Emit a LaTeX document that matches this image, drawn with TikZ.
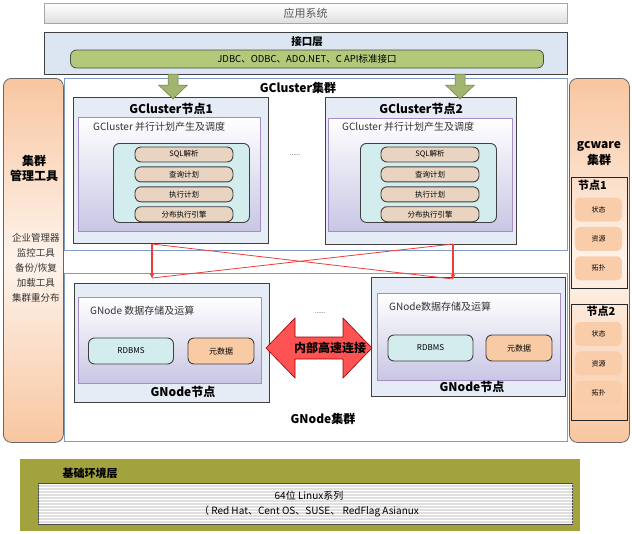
\documentclass[tikz,border=0pt]{standalone}
\usepackage{fontspec}
\setmainfont{Noto Sans CJK SC}
\usepackage{xcolor}
\usepackage{tikz}
\usetikzlibrary{positioning,arrows.meta,patterns}

\definecolor{apigreen}{HTML}{B4C87A}
\definecolor{layerblue}{HTML}{DCE6F2}
\definecolor{clusterline}{HTML}{7F9CC7}
\definecolor{nodefill}{HTML}{E5ECF6}
\definecolor{planline}{HTML}{A58CC4}
\definecolor{planbot}{HTML}{C8C6E4}
\definecolor{corefill}{HTML}{D3ECEE}
\definecolor{pillfill}{HTML}{E9D4C1}
\definecolor{metafill}{HTML}{F9CBA4}
\definecolor{peach}{HTML}{F8C6A0}
\definecolor{olive}{HTML}{A2A23E}
\definecolor{linkred}{HTML}{EE3B3B}
\definecolor{hsred}{HTML}{FF5252}

\begin{document}
\begin{tikzpicture}[
  x=1pt, y=-1pt,
  font=\fontsize{8}{10}\selectfont,
  frame/.style={anchor=north west, inner sep=0pt},
  appbox/.style={frame, draw=gray!70, top color=white, bottom color=gray!25, text=black!65, font=\fontsize{11}{13}\selectfont},
  layerbox/.style={frame, draw=black!75, line width=0.9pt, fill=layerblue},
  apibar/.style={draw=black!70, line width=0.8pt, rounded corners=6pt, fill=apigreen, minimum width=473pt, minimum height=18pt, inner sep=0pt, font=\fontsize{9.5}{11}\selectfont},
  clusterbox/.style={frame, draw=clusterline, line width=1.1pt, fill=white},
  nodebox/.style={frame, draw=black!75, line width=1.1pt, fill=nodefill},
  planbox/.style={frame, draw=planline, line width=0.8pt, top color=white, bottom color=planbot},
  corebox/.style={frame, draw=black!75, line width=0.9pt, rounded corners=6pt, fill=corefill},
  pill/.style={draw=black!75, line width=0.9pt, rounded corners=6pt, fill=pillfill, minimum width=98pt, minimum height=15pt, inner sep=0pt, font=\fontsize{7.5}{8}\selectfont},
  dbbox/.style={draw=black!75, line width=0.9pt, rounded corners=6pt, minimum height=26pt, inner sep=0pt, font=\fontsize{8}{9}\selectfont},
  sidepanel/.style={frame, draw=black!60, line width=0.8pt, rounded corners=8pt, top color=peach, bottom color=peach, middle color=peach!20},
  hostbox/.style={frame, draw=black!85, line width=1pt},
  hostpill/.style={fill=peach!90, rounded corners=5pt, minimum width=47pt, minimum height=24pt, inner sep=0pt, font=\fontsize{7}{8}\selectfont},
  title/.style={font=\fontsize{12}{14}\selectfont\bfseries, inner sep=0pt},
  subtitle/.style={font=\fontsize{10}{12}\selectfont, text=black!80, inner sep=0pt},
  link/.style={draw=linkred, line width=0.8pt},
  linkarrow/.style={link, line width=1.6pt, -{Stealth[length=5pt,width=5pt]}},
  feed/.style={fill=apigreen!90!black, draw=apigreen!60!black, line width=0.5pt},
  hslink/.style={fill=hsred, draw=red!60!black, line width=0.6pt}
]
\useasboundingbox (0,0) rectangle (632,533);

% top layers
\node[appbox, minimum width=523pt, minimum height=20pt] (app) at (44,3) {应用系统};
\node[layerbox, minimum width=523pt, minimum height=42pt] (api) at (44,32) {};
\node[font=\fontsize{10.5}{12}\selectfont\bfseries, inner sep=0pt] (apit) at (307,42) {接口层};
\node[apibar] (apis) at (307,59) {JDBC、ODBC、ADO.NET、C API标准接口};

% side panels
\node[sidepanel, minimum width=60pt, minimum height=364pt] (mgmt) at (3,78) {};
\node[align=center, font=\fontsize{12}{15}\selectfont\bfseries, inner sep=0pt] (mgmtt) at (34,168) {集群\\管理工具};
\node[align=center, font=\fontsize{9.5}{15}\selectfont, text=black!80, inner sep=0pt] (tools) at (36,268) {企业管理器\\监控工具\\备份/恢复\\加载工具\\集群重分布};

\node[sidepanel, minimum width=60pt, minimum height=364pt] (gcw) at (569,78) {};
\node[align=center, font=\fontsize{12}{16}\selectfont\bfseries, inner sep=0pt] (gcwt) at (599,154) {gcware\\集群};
\node[hostbox, minimum width=56pt, minimum height=111pt] (h1) at (571,177) {};
\node[font=\fontsize{11}{12}\selectfont\bfseries, anchor=west, inner sep=0pt] (h1t) at (578,185) {节点1};
\node[hostpill] (h1a) at (598.5,209.5) {状态};
\node[hostpill, below=5pt of h1a] (h1b) {资源};
\node[hostpill, below=5pt of h1b] (h1c) {拓扑};
\node[hostbox, minimum width=56pt, minimum height=116pt] (h2) at (571,304) {};
\node[font=\fontsize{11}{12}\selectfont\bfseries, inner sep=0pt] (h2t) at (601,311) {节点2};
\node[hostpill] (h2a) at (598.5,334) {状态};
\node[hostpill, below=5pt of h2a] (h2b) {资源};
\node[hostpill, below=5pt of h2b] (h2c) {拓扑};

% GCluster cluster
\node[clusterbox, minimum width=503pt, minimum height=172pt] (gcc) at (64,78) {};
\node[title] (gcct) at (298,88) {GCluster集群};

\node[nodebox, minimum width=195pt, minimum height=146pt] (gc1) at (73,97) {};
\node[title, below=6pt of gc1.north] (gc1t) {GCluster节点1};
\node[planbox, minimum width=182pt, minimum height=114pt] (pl1) at (78,117) {};
\node[subtitle, anchor=west] (pl1t) at (93,127) {GCluster 并行计划产生及调度};
\node[corebox, minimum width=136pt, minimum height=79pt] (co1) at (113,143) {};
\node[pill] (p1a) at (184,154.5) {SQL解析};
\node[pill, below=4pt of p1a] (p1b) {查询计划};
\node[pill, below=4pt of p1b] (p1c) {执行计划};
\node[pill, below=4pt of p1c] (p1d) {分布执行引擎};

\node[font=\fontsize{6}{6}\selectfont] (dots1) at (295,155) {......};

\node[nodebox, minimum width=191pt, minimum height=147pt] (gc2) at (325,97) {};
\node[title, below=6pt of gc2.north] (gc2t) {GCluster节点2};
\node[planbox, minimum width=184pt, minimum height=113pt] (pl2) at (328,118) {};
\node[subtitle, anchor=west] (pl2t) at (342,127) {GCluster 并行计划产生及调度};
\node[corebox, minimum width=136pt, minimum height=79pt] (co2) at (360,143) {};
\node[pill] (p2a) at (430,154.5) {SQL解析};
\node[pill, below=4pt of p2a] (p2b) {查询计划};
\node[pill, below=4pt of p2b] (p2c) {执行计划};
\node[pill, below=4pt of p2c] (p2d) {分布执行引擎};

% GNode cluster
\node[clusterbox, minimum width=503pt, minimum height=168pt] (gnc) at (64,273) {};
\node[title] (gnct) at (323,419) {GNode集群};

\node[nodebox, minimum width=195pt, minimum height=119pt] (gn1) at (74,283) {};
\node[planbox, minimum width=183pt, minimum height=86pt] (st1) at (78,297) {};
\node[subtitle, anchor=west] (st1t) at (90,311) {GNode 数据存储及运算};
\node[dbbox, fill=corefill, minimum width=85pt] (db1) at (131,351) {RDBMS};
\node[dbbox, fill=metafill, minimum width=66pt] (md1) at (221,351) {元数据};
\node[title] (gn1t) at (183,392) {GNode节点};

\node[font=\fontsize{6}{6}\selectfont] (dots2) at (320,313) {......};

\node[nodebox, minimum width=194pt, minimum height=119pt] (gn2) at (371,277) {};
\node[planbox, minimum width=183pt, minimum height=87pt] (st2) at (377,293) {};
\node[subtitle, anchor=west] (st2t) at (389,307) {GNode数据存储及运算};
\node[dbbox, fill=corefill, minimum width=85pt] (db2) at (430.5,348) {RDBMS};
\node[dbbox, fill=metafill, minimum width=66pt] (md2) at (519,348) {元数据};
\node[title] (gn2t) at (472,387) {GNode节点};

% links between the clusters
\coordinate (up1) at (152,244);
\coordinate (up2) at (453,244);
\coordinate (lo1) at (152,278);
\coordinate (lo2) at (453,279);
\draw[link] (up1) -- (lo2);
\draw[link] (up2) -- (lo1);
\draw[linkarrow] (up1) -- (lo1);
\draw[linkarrow] (up2) -- (lo2);

% feeds from the interface layer
\coordinate (fd1) at (173,74);
\coordinate (fd2) at (460,74);
\filldraw[feed] (fd1) ++(-5,0) -- ++(10,0) -- ++(0,11) -- ++(9.5,0) -- ++(-14.5,14) -- ++(-14.5,-14) -- ++(9.5,0) -- cycle;
\filldraw[feed] (fd2) ++(-5,0) -- ++(10,0) -- ++(0,11) -- ++(9.5,0) -- ++(-14.5,14) -- ++(-14.5,-14) -- ++(9.5,0) -- cycle;

% high speed interconnect
\coordinate (hs) at (319,348);
\filldraw[hslink] (hs) ++(-53,0) -- ++(29,-30) -- ++(0,19) -- ++(48,0) -- ++(0,-19) -- ++(29,30) -- ++(-29,30) -- ++(0,-19) -- ++(-48,0) -- ++(0,19) -- cycle;
\node[font=\fontsize{12}{14}\selectfont\bfseries, inner sep=0pt] (hst) at (330,348) {内部高速连接};

% base layer
\node[frame, fill=olive, minimum width=560pt, minimum height=72pt] (base) at (20,459) {};
\node[font=\fontsize{11}{12}\selectfont\bfseries, inner sep=0pt] (baset) at (90,473) {基础环境层};
\node[frame, draw=black!70, line width=1.2pt, fill=gray!25, postaction={pattern=horizontal lines, pattern color=white!70}, minimum width=534pt, minimum height=41pt] (os) at (38,483) {};
\node[align=center, font=\fontsize{10}{15}\selectfont, inner sep=0pt] (ost) at (309,504) {64位 Linux系列\\（ Red Hat、Cent OS、SUSE、 RedFlag Asianux};
\end{tikzpicture}
\end{document}
